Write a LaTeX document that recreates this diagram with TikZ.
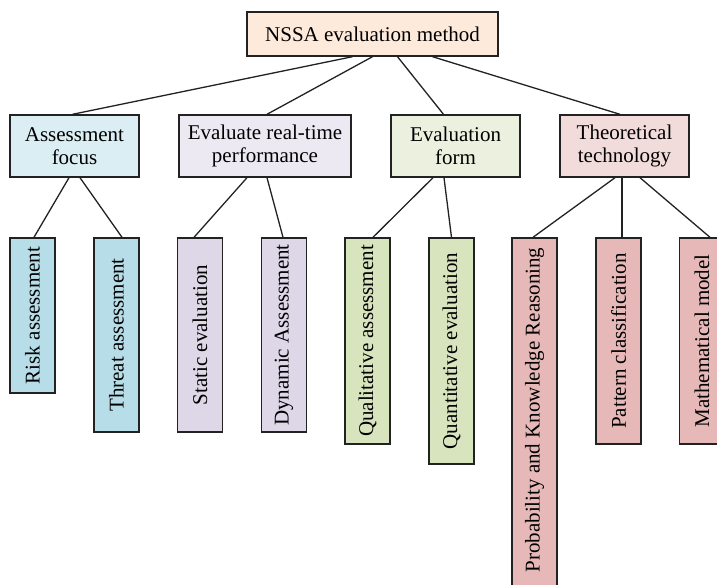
\documentclass[tikz,border=0pt]{standalone}
\usepackage{fontspec}
\setmainfont{Liberation Serif}
\usetikzlibrary{calc}

\definecolor{rootfill}{HTML}{FDEADA}
\definecolor{afocus}{HTML}{DAEEF3}
\definecolor{afocusleaf}{HTML}{B7DEE8}
\definecolor{rtperf}{HTML}{ECE9F2}
\definecolor{rtperfleaf}{HTML}{DDD7E8}
\definecolor{evform}{HTML}{EBF1DE}
\definecolor{evformleaf}{HTML}{D7E4BD}
\definecolor{theory}{HTML}{F2DCDB}
\definecolor{theoryleaf}{HTML}{E6B9B8}
\definecolor{edge}{HTML}{222222}

\tikzset{
  box/.style={draw=edge, line width=1.4pt, inner sep=0pt, rectangle,
    font=\fontsize{21}{23.5}\selectfont, align=center},
  rootbox/.style={box, fill=rootfill, minimum width=251pt, minimum height=44pt},
  groupbox/.style={box, minimum width=129pt, minimum height=62pt},
  leafbox/.style={box, minimum width=45pt},
  link/.style={draw=edge, line width=1.3pt},
}

\begin{document}
\begin{tikzpicture}[x=1pt, y=-1pt]
\useasboundingbox (0,0) rectangle (717,584);
\clip (0,0) rectangle (717,584);

% root
\node[rootbox] (root) at (372.5,34) {NSSA evaluation method};

% second level
\node[groupbox, fill=afocus] (af) at (74.5,146) {Assessment\\focus};
\node[groupbox, fill=rtperf, minimum width=172pt] (rt) at (265,146) {Evaluate real-time\\performance};
\node[groupbox, fill=evform] (ef) at (455.5,146) {Evaluation\\form};
\node[groupbox, fill=theory] (tt) at (624.5,146) {Theoretical\\technology};

% leaves
\node[leafbox, fill=afocusleaf, minimum height=155pt] (risk) at (32.5,315.5) {\rotatebox{90}{Risk assessment}};
\node[leafbox, fill=afocusleaf, minimum height=194pt] (threat) at (116.5,335) {\rotatebox{90}{Threat assessment}};
\node[leafbox, fill=rtperfleaf, minimum height=194pt] (static) at (200,335) {\rotatebox{90}{Static evaluation}};
\node[leafbox, fill=rtperfleaf, minimum height=194pt] (dynamic) at (284,335) {\rotatebox{90}{Dynamic Assessment}};
\node[leafbox, fill=evformleaf, minimum height=206pt] (qual) at (367.5,341) {\rotatebox{90}{Qualitative assessment}};
\node[leafbox, fill=evformleaf, minimum height=226pt] (quant) at (451.5,351) {\rotatebox{90}{Quantitative evaluation}};
% runs past the lower edge; the leading space keeps the text centred on the visible part
\node[leafbox, fill=theoryleaf, minimum height=360pt] (prob) at (534.5,418) {\rotatebox{90}{\hspace*{16pt}Probability and Knowledge Reasoning}};
\node[leafbox, fill=theoryleaf, minimum height=206pt] (pattern) at (618.5,341) {\rotatebox{90}{Pattern classification}};
\node[leafbox, fill=theoryleaf, minimum height=206pt] (math) at (702,341) {\rotatebox{90}{Mathematical model}};

% root to second level
\draw[link] ([xshift=-20pt]root.south) -- ([xshift=-2pt]af.north);
\draw[link] (root.south) -- ([xshift=2pt]rt.north);
\draw[link] ([xshift=25pt]root.south) -- ([xshift=-12pt]ef.north);
\draw[link] ([xshift=60pt]root.south) -- ([xshift=-4.5pt]tt.north);

% second level to leaves
\draw[link] ([xshift=-5.5pt]af.south) -- ([xshift=1.5pt]risk.north);
\draw[link] ([xshift=5.5pt]af.south) -- ([xshift=5.5pt]threat.north);
\draw[link] ([xshift=-18pt]rt.south) -- ([xshift=-6pt]static.north);
\draw[link] ([xshift=2pt]rt.south) -- ([xshift=-1pt]dynamic.north);
\draw[link] ([xshift=-22.5pt]ef.south) -- ([xshift=5.5pt]qual.north);
\draw[link] ([xshift=-11.5pt]ef.south) -- (quant.north);
\draw[link] ([xshift=-9.5pt]tt.south) -- ([xshift=-1.5pt]prob.north);
\draw[link] ([xshift=-2.5pt]tt.south) -- ([xshift=3.5pt]pattern.north);
\draw[link] ([xshift=15.5pt]tt.south) -- ([xshift=8pt]math.north);
\end{tikzpicture}
\end{document}
